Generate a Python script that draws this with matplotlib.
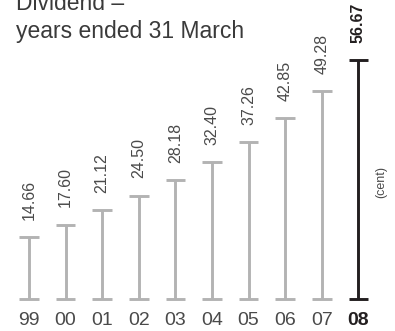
import matplotlib
matplotlib.use("Agg")
import matplotlib.pyplot as plt

years = ["99", "00", "01", "02", "03", "04", "05", "06", "07", "08"]
dividend = [14.66, 17.60, 21.12, 24.50, 28.18, 32.40, 37.26, 42.85, 49.28, 56.67]
value_labels = ["14.66", "17.60", "21.12", "24.50", "28.18", "32.40",
                "37.26", "42.85", "49.28", "56.67"]

GREY = "#b3b3b3"
DARK = "#231f20"
TEXT = "#4a4a4a"

W, H = 395, 331
fig = plt.figure(figsize=(W / 100, H / 100), dpi=100)

# axes: zero line at y=299px, 4.217 px per cent, bars every 36.6 px from x=29
ax = fig.add_axes([0, 32 / H, 1, 299 / H])
ax.set_ylim(0, 299 / 4.217)
ax.set_xlim(-29 / 36.6, (W - 29) / 36.6)
ax.axis("off")

cap = 0.27
lw = 2.1
for i, (yr, val, lab) in enumerate(zip(years, dividend, value_labels)):
    last = i == len(years) - 1
    c = DARK if last else GREY
    ax.vlines(i, 0, val, color=c, lw=lw, clip_on=False)
    ax.hlines([0, val], i - cap, i + cap, color=c, lw=lw, clip_on=False)
    ax.annotate(lab, (i, val), xytext=(0, 12.5), textcoords="offset points",
                rotation=90, ha="center", va="bottom", fontsize=11.5,
                family=["Liberation Sans", "DejaVu Sans"],
                fontweight="bold" if last else "normal",
                color=DARK if last else TEXT)
    ax.annotate(yr, (i, 0), xytext=(0, -9.5), textcoords="offset points",
                ha="center", va="top", fontsize=14,
                family=["Liberation Sans Narrow", "Liberation Sans", "DejaVu Sans"],
                fontweight="bold" if last else "normal",
                color=DARK if last else TEXT, annotation_clip=False)

fig.text(16 / W, 1 - 10 / H, "Dividend \u2013", fontsize=16.5,
         family=["Liberation Sans", "DejaVu Sans"], color="#3a3a3a",
         va="baseline", ha="left")
fig.text(16 / W, 1 - 38 / H, "years ended 31 March", fontsize=16.5,
         family=["Liberation Sans", "DejaVu Sans"], color="#3a3a3a",
         va="baseline", ha="left")

fig.text(381 / W, 1 - 182 / H, "(cent)", fontsize=9, rotation=90,
         family=["Liberation Sans", "DejaVu Sans"], color=TEXT,
         va="center", ha="center")

fig.savefig("out.png", dpi=100)
